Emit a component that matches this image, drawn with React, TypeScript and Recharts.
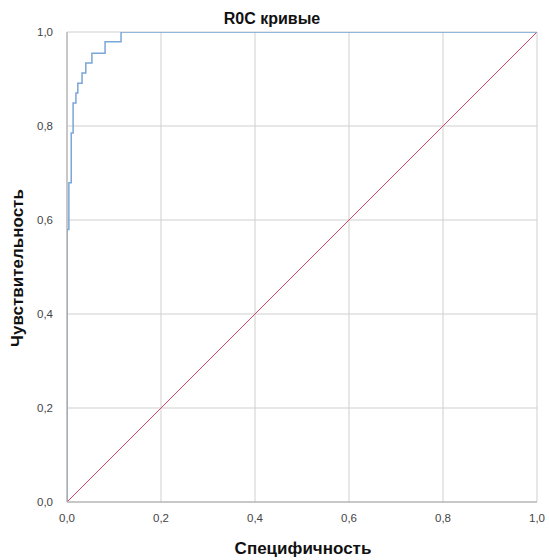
import React from "react";
import { LineChart, Line, XAxis, YAxis, CartesianGrid } from "recharts";

const rocFpr = [0, 0, 0.004, 0.004, 0.009, 0.009, 0.013, 0.013, 0.019, 0.019, 0.023, 0.023, 0.032, 0.032, 0.04, 0.04, 0.053, 0.053, 0.081, 0.081, 0.115, 0.115, 0.123, 0.123, 1];
const rocTpr = [0, 0.58, 0.58, 0.679, 0.679, 0.785, 0.785, 0.849, 0.849, 0.87, 0.87, 0.891, 0.891, 0.913, 0.913, 0.934, 0.934, 0.955, 0.955, 0.979, 0.979, 1, 1, 1, 1];
const refX = [0, 1];
const refY = [0, 1];
const ticks = [0, 0.2, 0.4, 0.6, 0.8, 1];

const rocData = rocFpr.map((x, i) => ({ x, y: rocTpr[i] }));
const refData = refX.map((x, i) => ({ x, y: refY[i] }));

const fmt = (v: number) => v.toFixed(1).replace(".", ",");

const labelStyle: React.CSSProperties = {
  position: "absolute",
  fontFamily: "Arial, 'Liberation Sans', sans-serif",
  fontWeight: "bold",
  fontSize: 17,
  color: "#111",
  whiteSpace: "nowrap",
  lineHeight: 1,
};

const tickStyle = { fill: "#444", fontSize: 11.5, fontFamily: "Arial, 'Liberation Sans', sans-serif" };

export default function App() {
  return (
    <div style={{ position: "absolute", left: 0, top: 0, width: 549, height: 560, background: "#fff" }}>
      <LineChart
        width={549}
        height={560}
        margin={{ top: 32, right: 12, bottom: 28, left: 27 }}
      >
        <CartesianGrid stroke="#cfcfcf" strokeWidth={1} />
        <XAxis
          type="number"
          dataKey="x"
          domain={[0, 1]}
          ticks={ticks}
          tickFormatter={fmt}
          tickLine={false}
          axisLine={{ stroke: "#a8a8a8" }}
          tick={tickStyle}
          tickMargin={6}
          allowDataOverflow
        />
        <YAxis
          type="number"
          dataKey="y"
          domain={[0, 1]}
          ticks={ticks}
          tickFormatter={fmt}
          tickLine={false}
          width={40}
          axisLine={{ stroke: "#a8a8a8" }}
          tick={tickStyle}
          tickMargin={8}
          allowDataOverflow
        />
        <Line
          data={refData}
          dataKey="y"
          type="linear"
          stroke="#d9456a"
          strokeWidth={1}
          dot={false}
          isAnimationActive={false}
        />
        <Line
          data={rocData}
          dataKey="y"
          type="linear"
          stroke="#7aa6d8"
          strokeWidth={1.5}
          dot={false}
          isAnimationActive={false}
        />
      </LineChart>
      <div style={{ ...labelStyle, left: 272, top: 11, transform: "translateX(-50%)", fontSize: 16 }}>R0C кривые</div>
      <div style={{ ...labelStyle, left: 303, top: 540, transform: "translateX(-50%)" }}>Специфичность</div>
      <div
        style={{
          ...labelStyle,
          left: 17,
          top: 268,
          transform: "translate(-50%, -50%) rotate(-90deg)",
        }}
      >
        Чувствительность
      </div>
    </div>
  );
}
